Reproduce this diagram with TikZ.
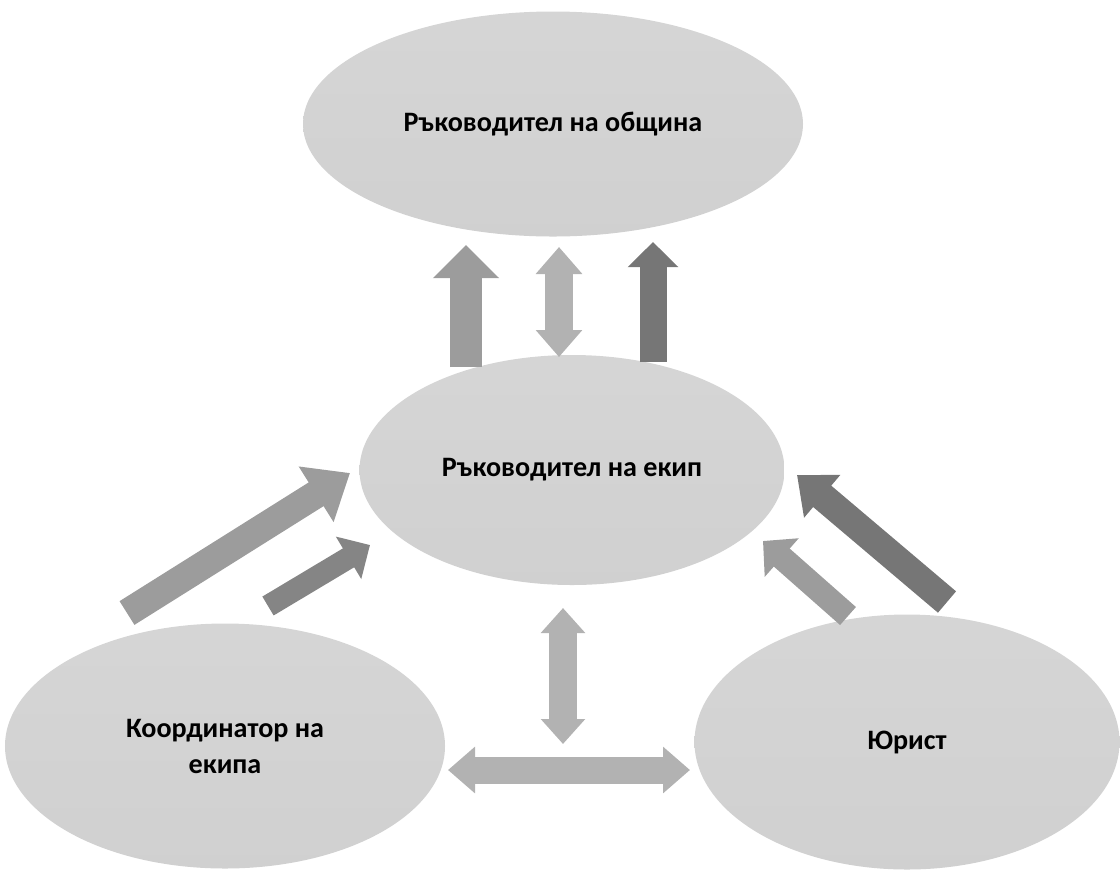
\documentclass[tikz,border=0pt]{standalone}
\usepackage{fontspec}
\setmainfont{Carlito}
\usetikzlibrary{arrows.meta, shapes.geometric}
\definecolor{ovalgray}{HTML}{CBCBCB}
\definecolor{arrlight}{HTML}{B2B2B2}
\definecolor{arrmid}{HTML}{9C9C9C}
\definecolor{arrdark}{HTML}{767676}

\begin{document}
\begin{tikzpicture}[
  x=0.2mm, y=-0.2mm,
  every node/.style={font=\fontsize{16}{20.5}\selectfont\bfseries},
  oval/.style={ellipse, inner sep=0pt, align=center, top color=ovalgray!80, bottom color=ovalgray!100!black!90},
  block/.style n args={3}{line width=#1, -{Triangle[width=#2, length=#3]}},
  twoway/.style n args={3}{line width=#1, {Triangle[width=#2, length=#3]}-{Triangle[width=#2, length=#3]}},
]
\useasboundingbox (0,0) rectangle (1120,878);

\node[oval, minimum width=10cm, minimum height=4.5cm] (chief) at (553,124) {Ръководител на община};
\node[oval, minimum width=8.5cm, minimum height=4.6cm] (lead) at (572,470) {Ръководител на екип};
\node[oval, minimum width=8.8cm, minimum height=4.9cm] (coord) at (225,746) {Координатор на\\екипа};
\node[oval, minimum width=8.5cm, minimum height=5.1cm] (lawyer) at (907,742) {Юрист};

% arrow ends
\coordinate (up1s) at (466,367);  \coordinate (up1e) at (466,245);
\coordinate (midTop) at (559,247); \coordinate (midBot) at (559,357);
\coordinate (up2s) at (653,362);  \coordinate (up2e) at (653,242);
\coordinate (cl1s) at (127,613);  \coordinate (cl1e) at (350,473);
\coordinate (cl2s) at (268,606);  \coordinate (cl2e) at (370,545);
\coordinate (jr1s) at (848,616);  \coordinate (jr1e) at (763,541);
\coordinate (jr2s) at (947,602);  \coordinate (jr2e) at (797,475);
\coordinate (vTop) at (563,608);  \coordinate (vBot) at (563,744);
\coordinate (hL) at (448,770);    \coordinate (hR) at (690,770);

% team lead -> municipality
\draw[arrmid, block={6.4mm}{12.8mm}{6.6mm}] (up1s) -- (up1e);
\draw[arrlight, twoway={5.6mm}{9mm}{5.4mm}] (midTop) -- (midBot);
\draw[arrdark, block={5.4mm}{9.8mm}{5mm}] (up2s) -- (up2e);

% coordinator and lawyer -> team lead
\draw[arrmid, block={5.6mm}{12.6mm}{8mm}] (cl1s) -- (cl1e);
\draw[arrmid!85!black, block={4.4mm}{9.6mm}{5mm}] (cl2s) -- (cl2e);
\draw[arrmid, block={4.8mm}{10mm}{5mm}] (jr1s) -- (jr1e);
\draw[arrdark, block={5.6mm}{10.8mm}{6.6mm}] (jr2s) -- (jr2e);

% two-way links below
\draw[arrlight, twoway={5.6mm}{8.6mm}{5mm}] (vTop) -- (vBot);
\draw[arrlight, twoway={5.4mm}{9mm}{5.4mm}] (hL) -- (hR);

\end{tikzpicture}
\end{document}
